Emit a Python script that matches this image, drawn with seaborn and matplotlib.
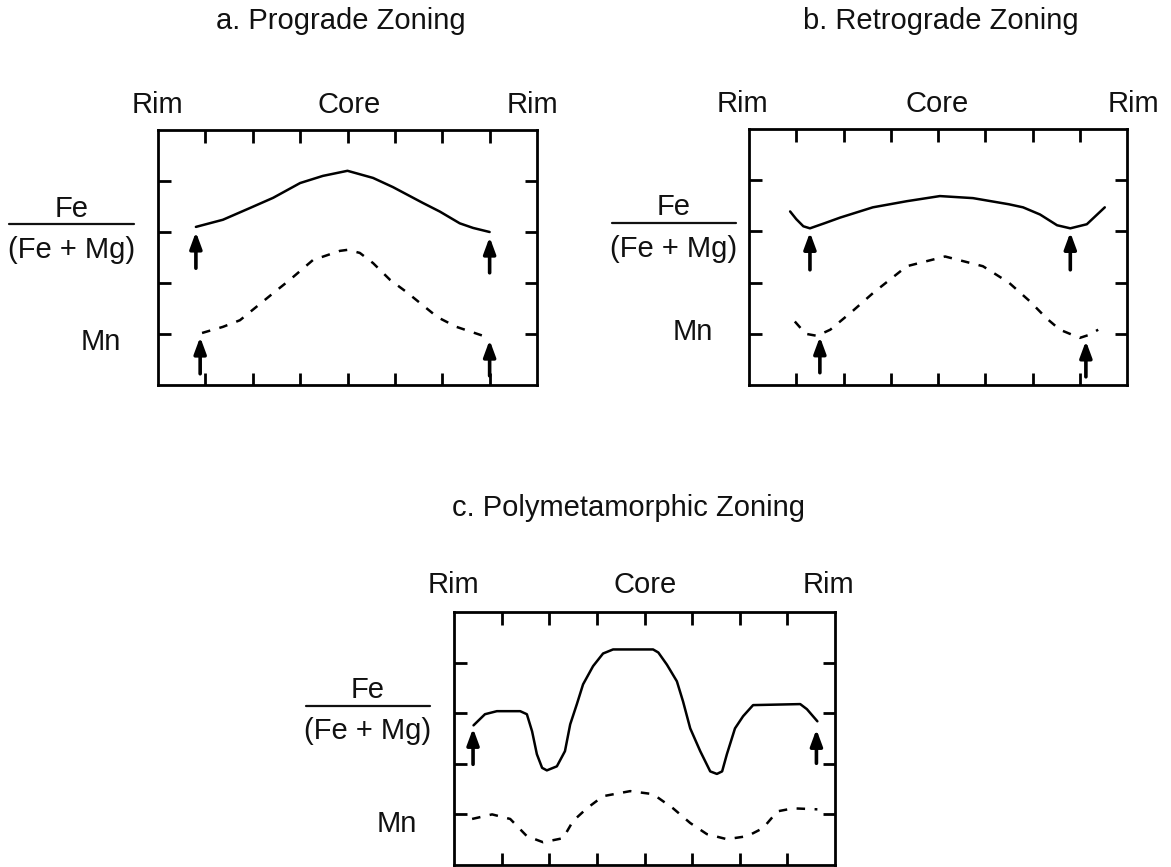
import numpy as np
import pandas as pd
import matplotlib
matplotlib.use("Agg")
import matplotlib.pyplot as plt
from matplotlib.lines import Line2D
import seaborn as sns

# ---------------- data ----------------
# panel a: prograde zoning
a_fe_x = [0.80, 1.37, 1.94, 2.43, 3.0, 3.48, 4.0, 4.54, 4.96, 5.59, 5.95, 6.37, 6.65, 7.0]
a_fe_y = [3.10, 3.24, 3.47, 3.67, 3.96, 4.10, 4.20, 4.06, 3.88, 3.57, 3.40, 3.17, 3.08, 3.00]
a_mn_x = [0.93, 1.37, 1.73, 2.43, 2.78, 3.27, 3.84, 4.0, 4.26, 4.54, 4.90, 5.25, 5.90, 6.30, 6.94]
a_mn_y = [1.02, 1.14, 1.27, 1.80, 2.06, 2.45, 2.63, 2.65, 2.59, 2.39, 2.06, 1.82, 1.33, 1.14, 0.94]
a_arrow_x = [0.80, 7.0, 0.89, 7.0]
a_arrow_y0 = [2.29, 2.20, 0.22, 0.18]
a_arrow_y1 = [3.00, 2.90, 0.94, 0.88]

# panel b: retrograde zoning
b_fe_x = [0.87, 1.0, 1.15, 1.29, 1.6, 1.93, 2.62, 3.34, 4.04, 4.74, 5.5, 5.8, 6.16, 6.52, 6.8, 7.15, 7.53]
b_fe_y = [3.39, 3.24, 3.10, 3.06, 3.16, 3.27, 3.47, 3.59, 3.69, 3.65, 3.53, 3.47, 3.33, 3.12, 3.06, 3.14, 3.47]
b_mn_x = [0.97, 1.2, 1.44, 1.72, 2.2, 2.63, 3.34, 4.15, 4.95, 5.5, 5.95, 6.3, 6.58, 7.0, 7.2, 7.39]
b_mn_y = [1.24, 1.00, 0.96, 1.08, 1.45, 1.80, 2.32, 2.51, 2.32, 2.00, 1.63, 1.30, 1.08, 0.92, 0.98, 1.08]
b_arrow_x = [1.29, 6.8, 1.5, 7.13]
b_arrow_y0 = [2.25, 2.25, 0.24, 0.16]
b_arrow_y1 = [2.98, 2.98, 0.94, 0.86]

# panel c: polymetamorphic zoning
c_fe_x = [0.41, 0.65, 0.9, 1.39, 1.53, 1.64, 1.74, 1.85, 1.95, 2.16, 2.33, 2.44, 2.58, 2.71,
          2.92, 3.13, 3.34, 4.18, 4.29, 4.47, 4.68, 4.81, 4.96, 5.17, 5.38, 5.52, 5.63, 5.73,
          5.9, 6.07, 6.28, 7.27, 7.41, 7.63]
c_fe_y = [2.76, 2.98, 3.04, 3.04, 2.98, 2.64, 2.19, 1.92, 1.87, 1.95, 2.25, 2.78, 3.18, 3.57,
          3.93, 4.18, 4.26, 4.26, 4.20, 3.96, 3.63, 3.23, 2.70, 2.25, 1.85, 1.80, 1.85, 2.19,
          2.70, 2.94, 3.16, 3.18, 3.08, 2.84]
c_mn_x = [0.38, 0.8, 1.18, 1.53, 1.87, 2.29, 2.5, 2.79, 3.13, 3.7, 4.18, 4.6, 4.96, 5.31,
          5.73, 6.16, 6.49, 6.79, 7.12, 7.63]
c_mn_y = [0.91, 1.00, 0.91, 0.57, 0.45, 0.53, 0.87, 1.12, 1.36, 1.46, 1.40, 1.12, 0.83, 0.61,
          0.51, 0.57, 0.73, 1.06, 1.12, 1.10]
c_arrow_x = [0.40, 7.61]
c_arrow_y0 = [1.99, 2.01]
c_arrow_y1 = [2.70, 2.68]

titles = ["a. Prograde Zoning", "b. Retrograde Zoning", "c. Polymetamorphic Zoning"]
pos_labels = ["Rim", "Core", "Rim"]
fe_num = "Fe"
fe_den = "(Fe + Mg)"
mn_label = "Mn"

# ---------------- style ----------------
sns.set_theme(style="white")
plt.rcParams["font.family"] = ["Liberation Sans", "DejaVu Sans"]

W, H = 1171, 867
fig = plt.figure(figsize=(W / 100, H / 100), dpi=100)


def fx(x):
    return x / W


def fy(y):
    return 1 - y / H


def make_axes(l, t, r, b):
    return fig.add_axes([fx(l), fy(b), (r - l) / W, (b - t) / H])


panels = [
    dict(box=(158, 130, 537, 385), fe=(a_fe_x, a_fe_y), mn=(a_mn_x, a_mn_y),
         arrows=(a_arrow_x, a_arrow_y0, a_arrow_y1),
         title=(341, 29), pos=[(157, 113), (349, 113), (532, 113)],
         fe_lab=(72, 217, 258, 224, 9, 134), mn_lab=(101, 350)),
    dict(box=(749, 129, 1127, 385), fe=(b_fe_x, b_fe_y), mn=(b_mn_x, b_mn_y),
         arrows=(b_arrow_x, b_arrow_y0, b_arrow_y1),
         title=(941, 29), pos=[(742, 112), (937, 112), (1133, 112)],
         fe_lab=(674, 215, 257, 223, 612, 736), mn_lab=(693, 340)),
    dict(box=(454, 612, 835, 865), fe=(c_fe_x, c_fe_y), mn=(c_mn_x, c_mn_y),
         arrows=(c_arrow_x, c_arrow_y0, c_arrow_y1),
         title=(628, 516), pos=[(453, 593), (645, 593), (828, 593)],
         fe_lab=(368, 698, 739, 706, 306, 430), mn_lab=(397, 832)),
]

FS = 21
for i, p in enumerate(panels):
    ax = make_axes(*p["box"])
    fe_df = pd.DataFrame({"x": p["fe"][0], "y": p["fe"][1]})
    mn_df = pd.DataFrame({"x": p["mn"][0], "y": p["mn"][1]})
    sns.lineplot(data=fe_df, x="x", y="y", ax=ax, color="black", lw=1.8,
                 estimator=None, sort=False)
    sns.lineplot(data=mn_df, x="x", y="y", ax=ax, color="black", lw=1.8,
                 estimator=None, sort=False, linestyle=(0, (3.4, 3.8)))
    for x, y0, y1 in zip(*p["arrows"]):
        ax.annotate("", xy=(x, y1), xytext=(x, y0),
                    arrowprops=dict(arrowstyle="-|>,head_length=0.65,head_width=0.24",
                                    lw=2.6, color="black", mutation_scale=15,
                                    shrinkA=0, shrinkB=0))
    ax.set_xlim(0, 8)
    ax.set_ylim(0, 5)
    ax.set_xticks(range(1, 8))
    ax.set_yticks(range(1, 5))
    ax.tick_params(direction="in", length=9, width=2, color="black",
                   top=True, right=True, bottom=True, left=True,
                   labelbottom=False, labelleft=False)
    ax.set_xlabel("")
    ax.set_ylabel("")
    for s in ax.spines.values():
        s.set_visible(True)
        s.set_linewidth(2)
        s.set_color("black")
    ax.set_facecolor("white")

    # texts
    tx, ty = p["title"]
    fig.text(fx(tx), fy(ty), titles[i], ha="center", va="baseline", fontsize=FS, color="#111111")
    for lab, (px_, py_) in zip(pos_labels, p["pos"]):
        fig.text(fx(px_), fy(py_), lab, ha="center", va="baseline", fontsize=FS, color="#111111")
    cx, ynum, yden, yline, lx0, lx1 = p["fe_lab"]
    fig.text(fx(cx), fy(ynum), fe_num, ha="center", va="baseline", fontsize=FS, color="#111111")
    fig.text(fx(cx), fy(yden), fe_den, ha="center", va="baseline", fontsize=FS, color="#111111")
    fig.add_artist(Line2D([fx(lx0), fx(lx1)], [fy(yline), fy(yline)],
                          transform=fig.transFigure, color="#111111", lw=1.6))
    mx, my = p["mn_lab"]
    fig.text(fx(mx), fy(my), mn_label, ha="center", va="baseline", fontsize=FS, color="#111111")

fig.savefig("out.png", dpi=100, facecolor="white")
